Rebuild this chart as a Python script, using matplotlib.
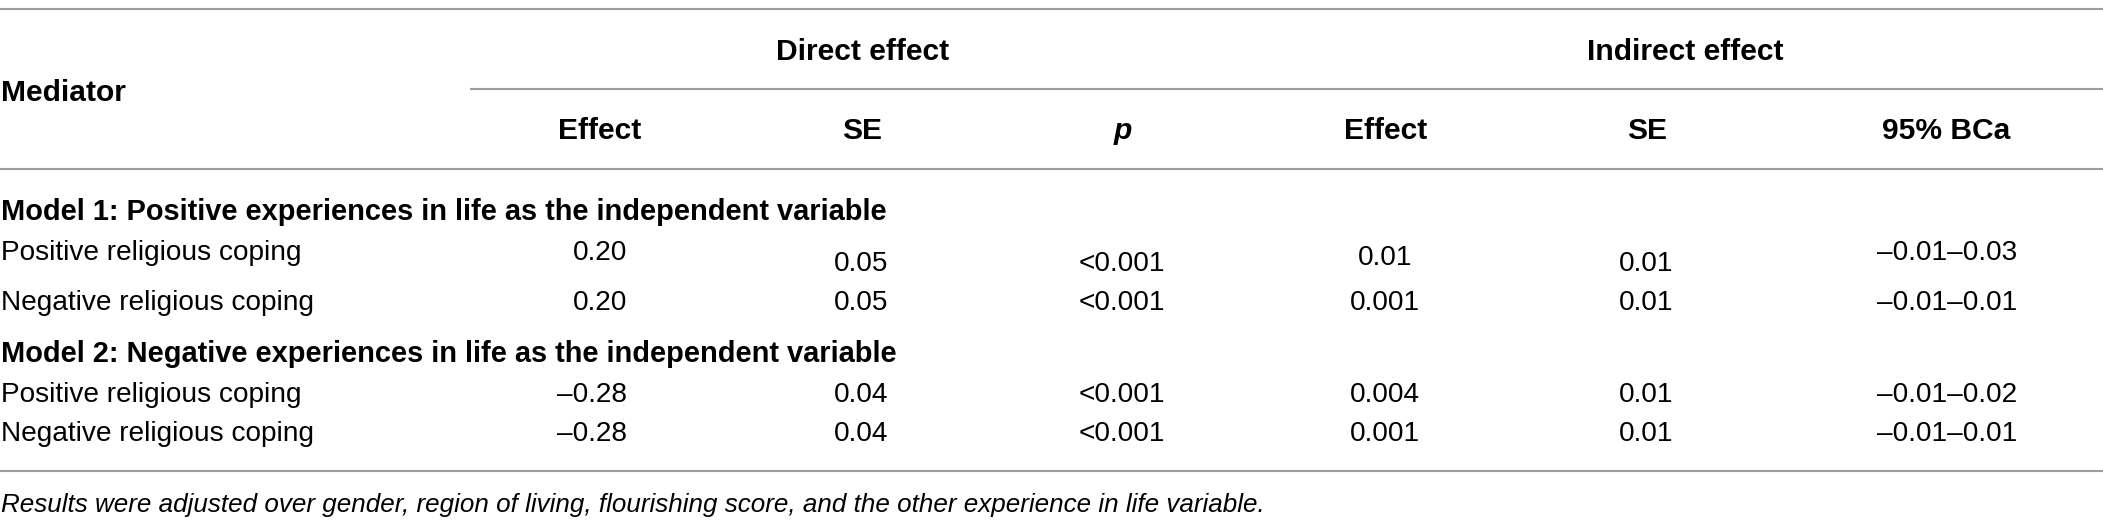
import matplotlib
matplotlib.use("Agg")
import matplotlib.pyplot as plt

plt.rcParams['font.family'] = ['Liberation Sans', 'DejaVu Sans']

# table content
group_headers = ["Direct effect", "Indirect effect"]
col_headers = ["Effect", "SE", "p", "Effect", "SE", "95% BCa"]
models = ["Model 1: Positive experiences in life as the independent variable",
          "Model 2: Negative experiences in life as the independent variable"]
mediators = ["Positive religious coping", "Negative religious coping"]

m1_direct_effect = ["0.20", "0.20"]
m1_direct_se = ["0.05", "0.05"]
m1_direct_p = ["<0.001", "<0.001"]
m1_indirect_effect = ["0.01", "0.001"]
m1_indirect_se = ["0.01", "0.01"]
m1_bca = ["\u20130.01\u20130.03", "\u20130.01\u20130.01"]

m2_direct_effect = ["\u20130.28", "\u20130.28"]
m2_direct_se = ["0.04", "0.04"]
m2_direct_p = ["<0.001", "<0.001"]
m2_indirect_effect = ["0.004", "0.001"]
m2_indirect_se = ["0.01", "0.01"]
m2_bca = ["\u20130.01\u20130.02", "\u20130.01\u20130.01"]

footnote = ("Results were adjusted over gender, region of living, flourishing score, "
            "and the other experience in life variable.")

model_cols = [
    [m1_direct_effect, m1_direct_se, m1_direct_p, m1_indirect_effect, m1_indirect_se, m1_bca],
    [m2_direct_effect, m2_direct_se, m2_direct_p, m2_indirect_effect, m2_indirect_se, m2_bca],
]

# layout (pixels, y from top)
W, H = 2103, 526
col_x = [627, 861, 1122, 1385, 1646, 1947]
col_ha = ['right', 'center', 'center', 'center', 'center', 'center']
head_x = [600, 862, 1123, 1386, 1647, 1946]
group_x = [863, 1685]
model_y = [220, 362]
row_y = [[260, 310], [402, 441]]
first_row_nudge = [0, 11, 11, 5, 11, 0]   # the first data row sits a bit uneven
line_color = '#9c9c9c'
fs_reg = 20.2
fs_bold = 21.6
fs_model = 20.9
fs_note = 18.7

fig = plt.figure(figsize=(W / 100, H / 100), dpi=100)
ax = fig.add_axes([0, 0, 1, 1])
ax.set_xlim(0, W)
ax.set_ylim(H, 0)
ax.axis('off')

ax.hlines([9, 169, 471], 0, W, color=line_color, lw=1.5)
ax.hlines(89, 470, W, color=line_color, lw=1.5)

for gx, g in zip(group_x, group_headers):
    ax.text(gx, 60, g, ha='center', va='baseline', fontsize=fs_bold, fontweight='bold')
ax.text(1, 101, "Mediator", ha='left', va='baseline', fontsize=fs_bold, fontweight='bold')
for hx, h in zip(head_x, col_headers):
    style = 'italic' if h == 'p' else 'normal'
    ax.text(hx, 139, h, ha='center', va='baseline', fontsize=fs_bold,
            fontweight='bold', fontstyle=style)

for m, (title, cols) in enumerate(zip(models, model_cols)):
    ax.text(1, model_y[m], title, ha='left', va='baseline', fontsize=fs_model, fontweight='bold')
    for r, med in enumerate(mediators):
        y = row_y[m][r]
        ax.text(1, y, med, ha='left', va='baseline', fontsize=fs_reg)
        for c, vals in enumerate(cols):
            dy = first_row_nudge[c] if (m == 0 and r == 0) else 0
            ax.text(col_x[c], y + dy, vals[r], ha=col_ha[c], va='baseline', fontsize=fs_reg)

ax.text(1, 512, footnote, ha='left', va='baseline', fontsize=fs_note, fontstyle='italic')

fig.savefig("out.png", dpi=100)
